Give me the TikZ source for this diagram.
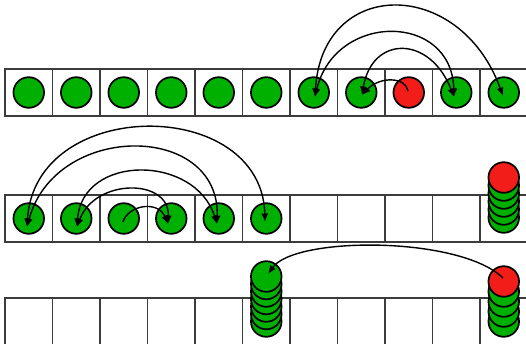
\documentclass[tikz,border=0pt]{standalone}
\usetikzlibrary{arrows.meta}
\definecolor{discgreen}{RGB}{0,176,0}
\definecolor{discred}{RGB}{242,28,24}
\definecolor{gridline}{RGB}{60,60,60}
\begin{document}
\begin{tikzpicture}[x=1pt,y=-1pt,
  cell/.style={draw=gridline, line width=1.5pt, minimum width=47.5pt, minimum height=47pt, inner sep=0pt, outer sep=0pt},
  disc/.style={circle, draw=black, line width=1.7pt, minimum size=30.6pt, inner sep=0pt},
  gdisc/.style={disc, fill=discgreen},
  rdisc/.style={disc, fill=discred},
  swap/.style={line width=1.4pt, {Latex[length=8.5pt,width=7pt]}-{Latex[length=8.5pt,width=7pt]}},
  move/.style={line width=1.4pt, -{Latex[length=8.5pt,width=7pt]}}]
\useasboundingbox (0,0) rectangle (526,344);
\clip (0,0) rectangle (526,344);

% three rows of eleven cells
\foreach \i in {0,...,10} {
  \node[cell] (a\i) at (28.75+47.5*\i, 92.5) {};
  \node[cell] (b\i) at (28.75+47.5*\i, 218.5) {};
  \node[cell] (c\i) at (28.75+47.5*\i, 321.5) {};
}

% row 1: one disc per cell, the red one in cell 8
\foreach \i in {0,1,2,3,4,5,6,7,9,10} {
  \node[gdisc] (da\i) at (a\i) {};
}
\node[rdisc] (da8) at (a8) {};

% row 2: discs in cells 0-5, a stack in cell 10
\foreach \i in {0,1,2,3,4,5} {
  \node[gdisc] (db\i) at (b\i) {};
}
\foreach \k in {0,...,4} {
  \node[gdisc] (sb\k) at (503.75, 217.5-8*\k) {};
}
\node[rdisc] (sbtop) at (503.75, 177.5) {};

% row 3: a stack in cell 5 and a stack in cell 10
\foreach \k in {0,...,6} {
  \node[gdisc] (sc\k) at (266.25, 321.5-7.5*\k) {};
}
\foreach \k in {0,...,3} {
  \node[gdisc] (sd\k) at (503.75, 321.5-10*\k) {};
}
\node[rdisc] (sdtop) at (503.75, 281.5) {};

% arrow ends inside the discs
\coordinate (t6) at (315,97);
\coordinate (t7) at (362,95);
\coordinate (t9) at (454,97);
\coordinate (t10) at (503,96);
\coordinate (s8) at (408,91);
\coordinate (u0) at (27,227);
\coordinate (u1) at (77,227);
\coordinate (u3) at (168,224);
\coordinate (u4) at (217,224);
\coordinate (u5) at (265,222);
\coordinate (s2) at (123,222);
\coordinate (v5) at (268,274);
\coordinate (s10) at (503,278);

% row 1 arcs
\draw[swap] (t6) .. controls (322,-23) and (460,-23) .. (t10);
\draw[swap] (t6) .. controls (335,12) and (452,12) .. (t9);
\draw[swap] (t7) .. controls (372,35) and (430,35) .. (t9);
\draw[move] (s8) .. controls (406,77) and (380,76) .. (t7);

% row 2 arcs
\draw[swap] (u0) .. controls (35,96) and (262,96) .. (u5);
\draw[swap] (u0) .. controls (55,122) and (220,122) .. (u4);
\draw[swap] (u1) .. controls (82,154) and (195,154) .. (u4);
\draw[swap] (u1) .. controls (95,178) and (170,178) .. (u3);
\draw[move] (s2) .. controls (128,205) and (158,200) .. (u3);

% row 3 arc
\draw[move] (s10) .. controls (460,236) and (295,236) .. (v5);
\end{tikzpicture}
\end{document}
